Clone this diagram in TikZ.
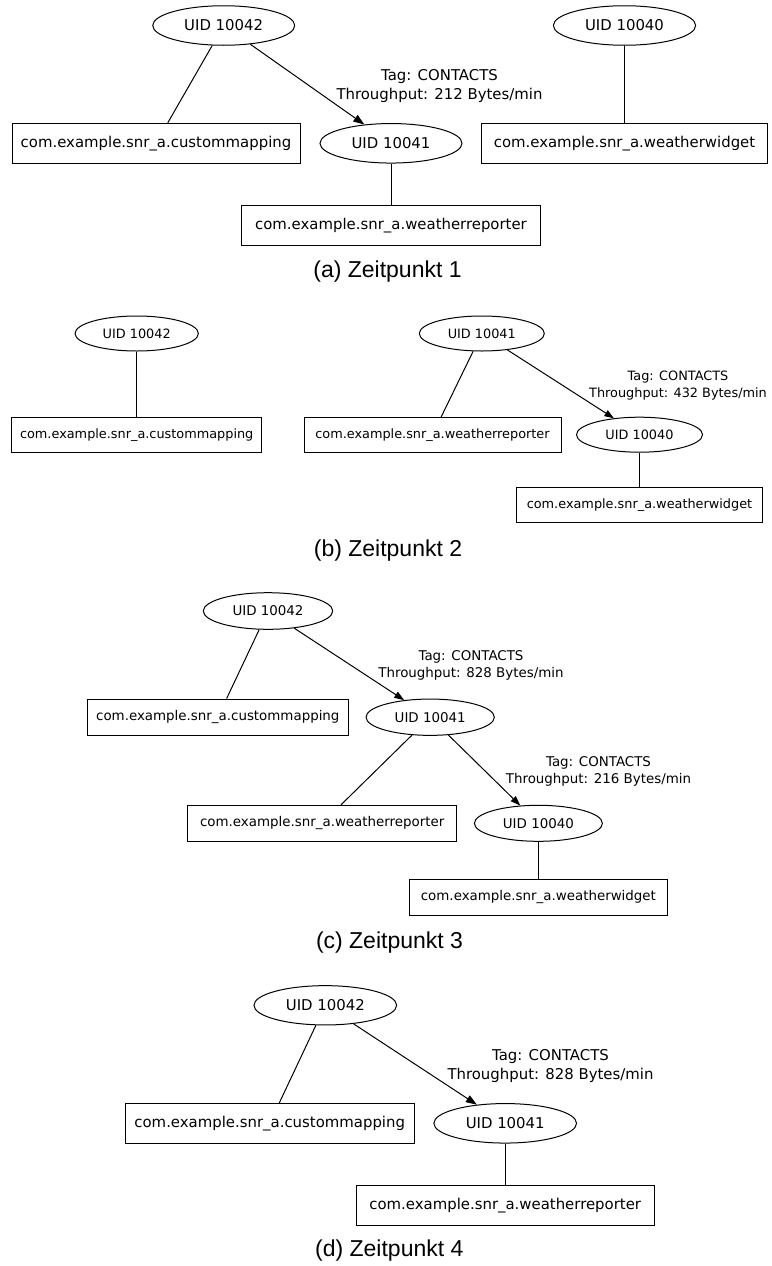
\documentclass[tikz,border=0pt]{standalone}
\usepackage{fontspec}
\usetikzlibrary{shapes.geometric,arrows.meta}
\newfontfamily\graphfont{DejaVu Sans}
\newfontfamily\capfont{Liberation Sans}

\tikzset{
  uid/.style={draw, ellipse, inner sep=0pt, line width=1pt},
  pkg/.style={draw, rectangle, inner sep=0pt, line width=1pt},
  link/.style={line width=1pt},
  flow/.style={line width=1pt, -{Triangle[length=#1*11pt, width=#1*7.8pt]}},
  flow/.default=1,
  lbl/.style={align=center, inner sep=0pt},
  subcap/.style={anchor=base, inner sep=0pt, font=\capfont\fontsize{23}{27}\selectfont},
  big/.style={every node/.append style={font=\graphfont\fontsize{14.9}{19}\selectfont}},
  small/.style={every node/.append style={font=\graphfont\fontsize{12.85}{16.3}\selectfont}},
  mid/.style={every node/.append style={font=\graphfont\fontsize{13.4}{17}\selectfont}},
}

\begin{document}
\begin{tikzpicture}[x=1pt, y=-1pt]
\useasboundingbox (0,0) rectangle (771,1266);

% ---------- (a) Zeitpunkt 1 ----------
\begin{scope}[big]
  \node[uid, minimum width=142pt, minimum height=39.5pt] (E42a) at (223.7,25.5) {UID 10042};
  \node[pkg, minimum width=288pt, minimum height=40pt] (CMa) at (156,143.3) {com.example.snr\_a.custommapping};
  \node[uid, minimum width=142pt, minimum height=39.5pt] (E41a) at (391,143.3) {UID 10041};
  \node[pkg, minimum width=299.4pt, minimum height=40pt] (WRa) at (391,225.7) {com.example.snr\_a.weatherreporter};
  \node[uid, minimum width=142.3pt, minimum height=39.5pt] (E40a) at (624.5,25.5) {UID 10040};
  \node[pkg, minimum width=285.7pt, minimum height=40pt] (WWa) at (624.5,143.3) {com.example.snr\_a.weatherwidget};
  \node[lbl] (La) at (439.5,86.1) {Tag: CONTACTS\\Throughput: 212 Bytes/min};
  \draw[link] (E42a) -- (CMa);
  \draw[flow] (E42a) -- (E41a);
  \draw[link] (E41a) -- (WRa);
  \draw[link] (E40a) -- (WWa);
\end{scope}
\node[subcap] (Ca) at (387.5,277.7) {(a) Zeitpunkt 1};

% ---------- (b) Zeitpunkt 2 ----------
\begin{scope}[small]
  \node[uid, minimum width=123.3pt, minimum height=35pt] (E42b) at (136.7,333.5) {UID 10042};
  \node[pkg, minimum width=250pt, minimum height=34.7pt] (CMb) at (136.7,434.7) {com.example.snr\_a.custommapping};
  \node[uid, minimum width=125pt, minimum height=35pt] (E41b) at (481.8,333.5) {UID 10041};
  \node[pkg, minimum width=257pt, minimum height=34.7pt] (WRb) at (432.5,434.7) {com.example.snr\_a.weatherreporter};
  \node[uid, minimum width=126pt, minimum height=35pt] (E40b) at (639.5,434.7) {UID 10040};
  \node[pkg, minimum width=246.7pt, minimum height=35pt] (WWb) at (639.5,504.7) {com.example.snr\_a.weatherwidget};
  \node[lbl] (Lb) at (678,385.5) {Tag: CONTACTS\\Throughput: 432 Bytes/min};
  \draw[link] (E42b) -- (CMb);
  \draw[link] (E41b) -- (WRb);
  \draw[flow=0.862] (E41b) -- (E40b);
  \draw[link] (E40b) -- (WWb);
\end{scope}
\node[subcap] (Cb) at (388,556.7) {(b) Zeitpunkt 2};

% ---------- (c) Zeitpunkt 3 ----------
\begin{scope}[mid]
  \node[uid, minimum width=129.4pt, minimum height=36.6pt] (E42c) at (268,611) {UID 10042};
  \node[pkg, minimum width=261pt, minimum height=36.3pt] (CMc) at (217.8,717.2) {com.example.snr\_a.custommapping};
  \node[uid, minimum width=128.3pt, minimum height=36.3pt] (E41c) at (430.2,717.2) {UID 10041};
  \node[pkg, minimum width=269pt, minimum height=36pt] (WRc) at (322.2,823.3) {com.example.snr\_a.weatherreporter};
  \node[uid, minimum width=128pt, minimum height=36pt] (E40c) at (538.4,823.3) {UID 10040};
  \node[pkg, minimum width=258.7pt, minimum height=36pt] (WWc) at (538.4,897.3) {com.example.snr\_a.weatherwidget};
  \node[lbl] (Lc1) at (471,665.3) {Tag: CONTACTS\\Throughput: 828 Bytes/min};
  \node[lbl] (Lc2) at (598.5,771) {Tag: CONTACTS\\Throughput: 216 Bytes/min};
  \draw[link] (E42c) -- (CMc);
  \draw[flow=0.9] (E42c) -- (E41c);
  \draw[link] (E41c) -- (WRc);
  \draw[flow=0.9] (E41c) -- (E40c);
  \draw[link] (E40c) -- (WWc);
\end{scope}
\node[subcap] (Cc) at (389.5,948) {(c) Zeitpunkt 3};

% ---------- (d) Zeitpunkt 4 ----------
\begin{scope}[big]
  \node[uid, minimum width=142.7pt, minimum height=39.3pt] (E42d) at (325.3,1005.3) {UID 10042};
  \node[pkg, minimum width=289.3pt, minimum height=40pt] (CMd) at (269.7,1123.3) {com.example.snr\_a.custommapping};
  \node[uid, minimum width=142.7pt, minimum height=39.5pt] (E41d) at (505.2,1123.3) {UID 10041};
  \node[pkg, minimum width=298pt, minimum height=40pt] (WRd) at (505.2,1205.3) {com.example.snr\_a.weatherreporter};
  \node[lbl] (Ld) at (550.5,1066) {Tag: CONTACTS\\Throughput: 828 Bytes/min};
  \draw[link] (E42d) -- (CMd);
  \draw[flow] (E42d) -- (E41d);
  \draw[link] (E41d) -- (WRd);
\end{scope}
\node[subcap] (Cd) at (389.3,1256.7) {(d) Zeitpunkt 4};
\end{tikzpicture}
\end{document}
